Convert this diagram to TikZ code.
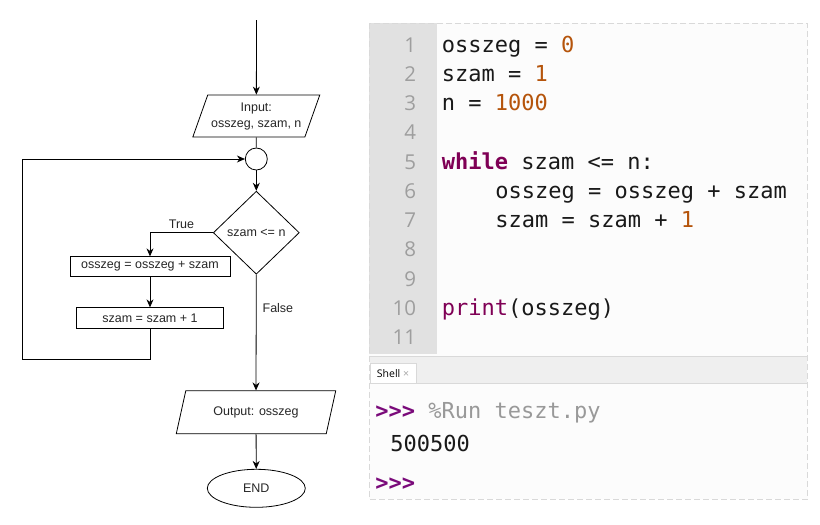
\documentclass[tikz,border=0pt]{standalone}
\usepackage{fontspec}
\setmainfont{Liberation Sans}
\newfontfamily\kodfont{DejaVu Sans Mono}
\newfontfamily\uifont{Open Sans}
\usepackage{tikz}
\usetikzlibrary{shapes.geometric,arrows.meta}
\usepackage{xcolor}
\definecolor{kulcsszo}{HTML}{7F0055}
\definecolor{promptszin}{HTML}{7A0A7A}
\definecolor{szamszin}{HTML}{B5540B}
\definecolor{sorszin}{HTML}{9E9E9E}
\definecolor{hatter}{HTML}{FCFCFC}
\definecolor{margo}{HTML}{E1E1E1}
\definecolor{keret}{HTML}{D9D9D9}
\definecolor{sav}{HTML}{EFEFEF}
\tikzset{
  szoveg/.style={font=\fontsize{12.5}{16}\selectfont, text=black!85, inner sep=0pt},
  doboz/.style={szoveg, draw, rectangle},
  bemenet/.style={szoveg, draw, trapezium, trapezium left angle=63, trapezium right angle=117, trapezium stretches=true, align=center},
  kod/.style={anchor=base west, inner sep=0pt, font=\kodfont\fontsize{22}{26}\selectfont, text=black!90},
  sorszam/.style={anchor=base east, inner sep=0pt, font=\uifont\fontsize{20.5}{24}\selectfont, text=sorszin}
}

\begin{document}
\begin{tikzpicture}[x=1pt, y=-1pt, line width=0.8pt, >={Stealth[length=8pt,width=7pt]}]
\useasboundingbox (0,0) rectangle (820,525);
% Folyamatabra
\coordinate (start) at (256.5,20);
\node[bemenet, minimum width=127pt, minimum height=42pt] (input) at (256.3,116) {Input:\\osszeg, szam, n};
\node[draw, circle, minimum size=22pt, inner sep=0pt] (kor) at (256.3,159) {};
\node[szoveg, draw, diamond, aspect=1, minimum width=86pt, minimum height=83pt] (dontes) at (256.3,232.7) {szam <= n};
\node[doboz, minimum width=160pt, minimum height=19.5pt] (osszead) at (150,266.5) {osszeg = osszeg + szam};
\node[doboz, minimum width=147pt, minimum height=20.5pt] (novel) at (150,318) {szam = szam + 1};
\node[bemenet, minimum width=160pt, minimum height=43pt] (output) at (256,412.3) {Output: osszeg};
\node[szoveg, draw, ellipse, minimum width=98pt, minimum height=38pt] (vege) at (256.3,488.3) {END};
\coordinate (hurok) at (22.7,359.3);

\draw[->] (start) -- (input);
\draw (input) -- (kor);
\draw[->] (kor) -- (dontes);
\draw[->] (dontes.west) -| (osszead.north) node[szoveg, pos=0.25, above=4pt] {True};
\draw[->] (osszead) -- (novel);
\draw[->] (novel.south) |- (hurok) |- (kor.west);
\draw[->] (dontes.south) -- (output.north) node[szoveg, pos=0.285, right=6pt] {False};
\draw[->] (output) -- (vege);

% Kod
\fill[hatter] (369.3,23.3) rectangle (807.7,499.3);
\fill[margo] (369.3,23.3) rectangle (436.7,354);
\draw[keret, line width=0.7pt, dash pattern=on 6pt off 3pt] (369.3,23.3) rectangle (807.7,499.3);
\foreach \i in {1,...,11}
  \node[sorszam] (sor\i) at (416.5,{52.2+(\i-1)*29.24}) {\i};
\node[kod] (k1) at (441.5,52.2) {osszeg = \textcolor{szamszin}{0}};
\node[kod] (k2) at (441.5,81.4) {szam = \textcolor{szamszin}{1}};
\node[kod] (k3) at (441.5,110.7) {n = \textcolor{szamszin}{1000}};
\node[kod] (k5) at (441.5,169.2) {\textcolor{kulcsszo}{\bfseries while} szam <= n:};
\node[kod] (k6) at (495,198.4) {osszeg = osszeg + szam};
\node[kod] (k7) at (495,227.6) {szam = szam + \textcolor{szamszin}{1}};
\node[kod] (k10) at (441.5,315.4) {\textcolor{kulcsszo}{print}(osszeg)};

% Shell
\fill[sav] (369.7,356) rectangle (807.3,383.5);
\draw[keret, line width=0.7pt] (369.7,356) -- (807.3,356) (369.7,383.5) -- (807.3,383.5);
\node[draw=keret, line width=0.7pt, fill=white, minimum width=46pt, minimum height=20pt, inner sep=0pt,
  font=\uifont\fontsize{10.5}{12}\selectfont] (ful) at (393,373.5) {Shell \textcolor{black!35}{×}};
\node[kod] (p1) at (375,418.3) {\textcolor{promptszin}{\bfseries >{}>{}>} \textcolor{black!40}{\%Run teszt.py}};
\node[kod] (eredmeny) at (390,451.7) {500500};
\node[kod, text=promptszin] (p2) at (375,490) {\bfseries >{}>{}>};
\end{tikzpicture}
\end{document}
